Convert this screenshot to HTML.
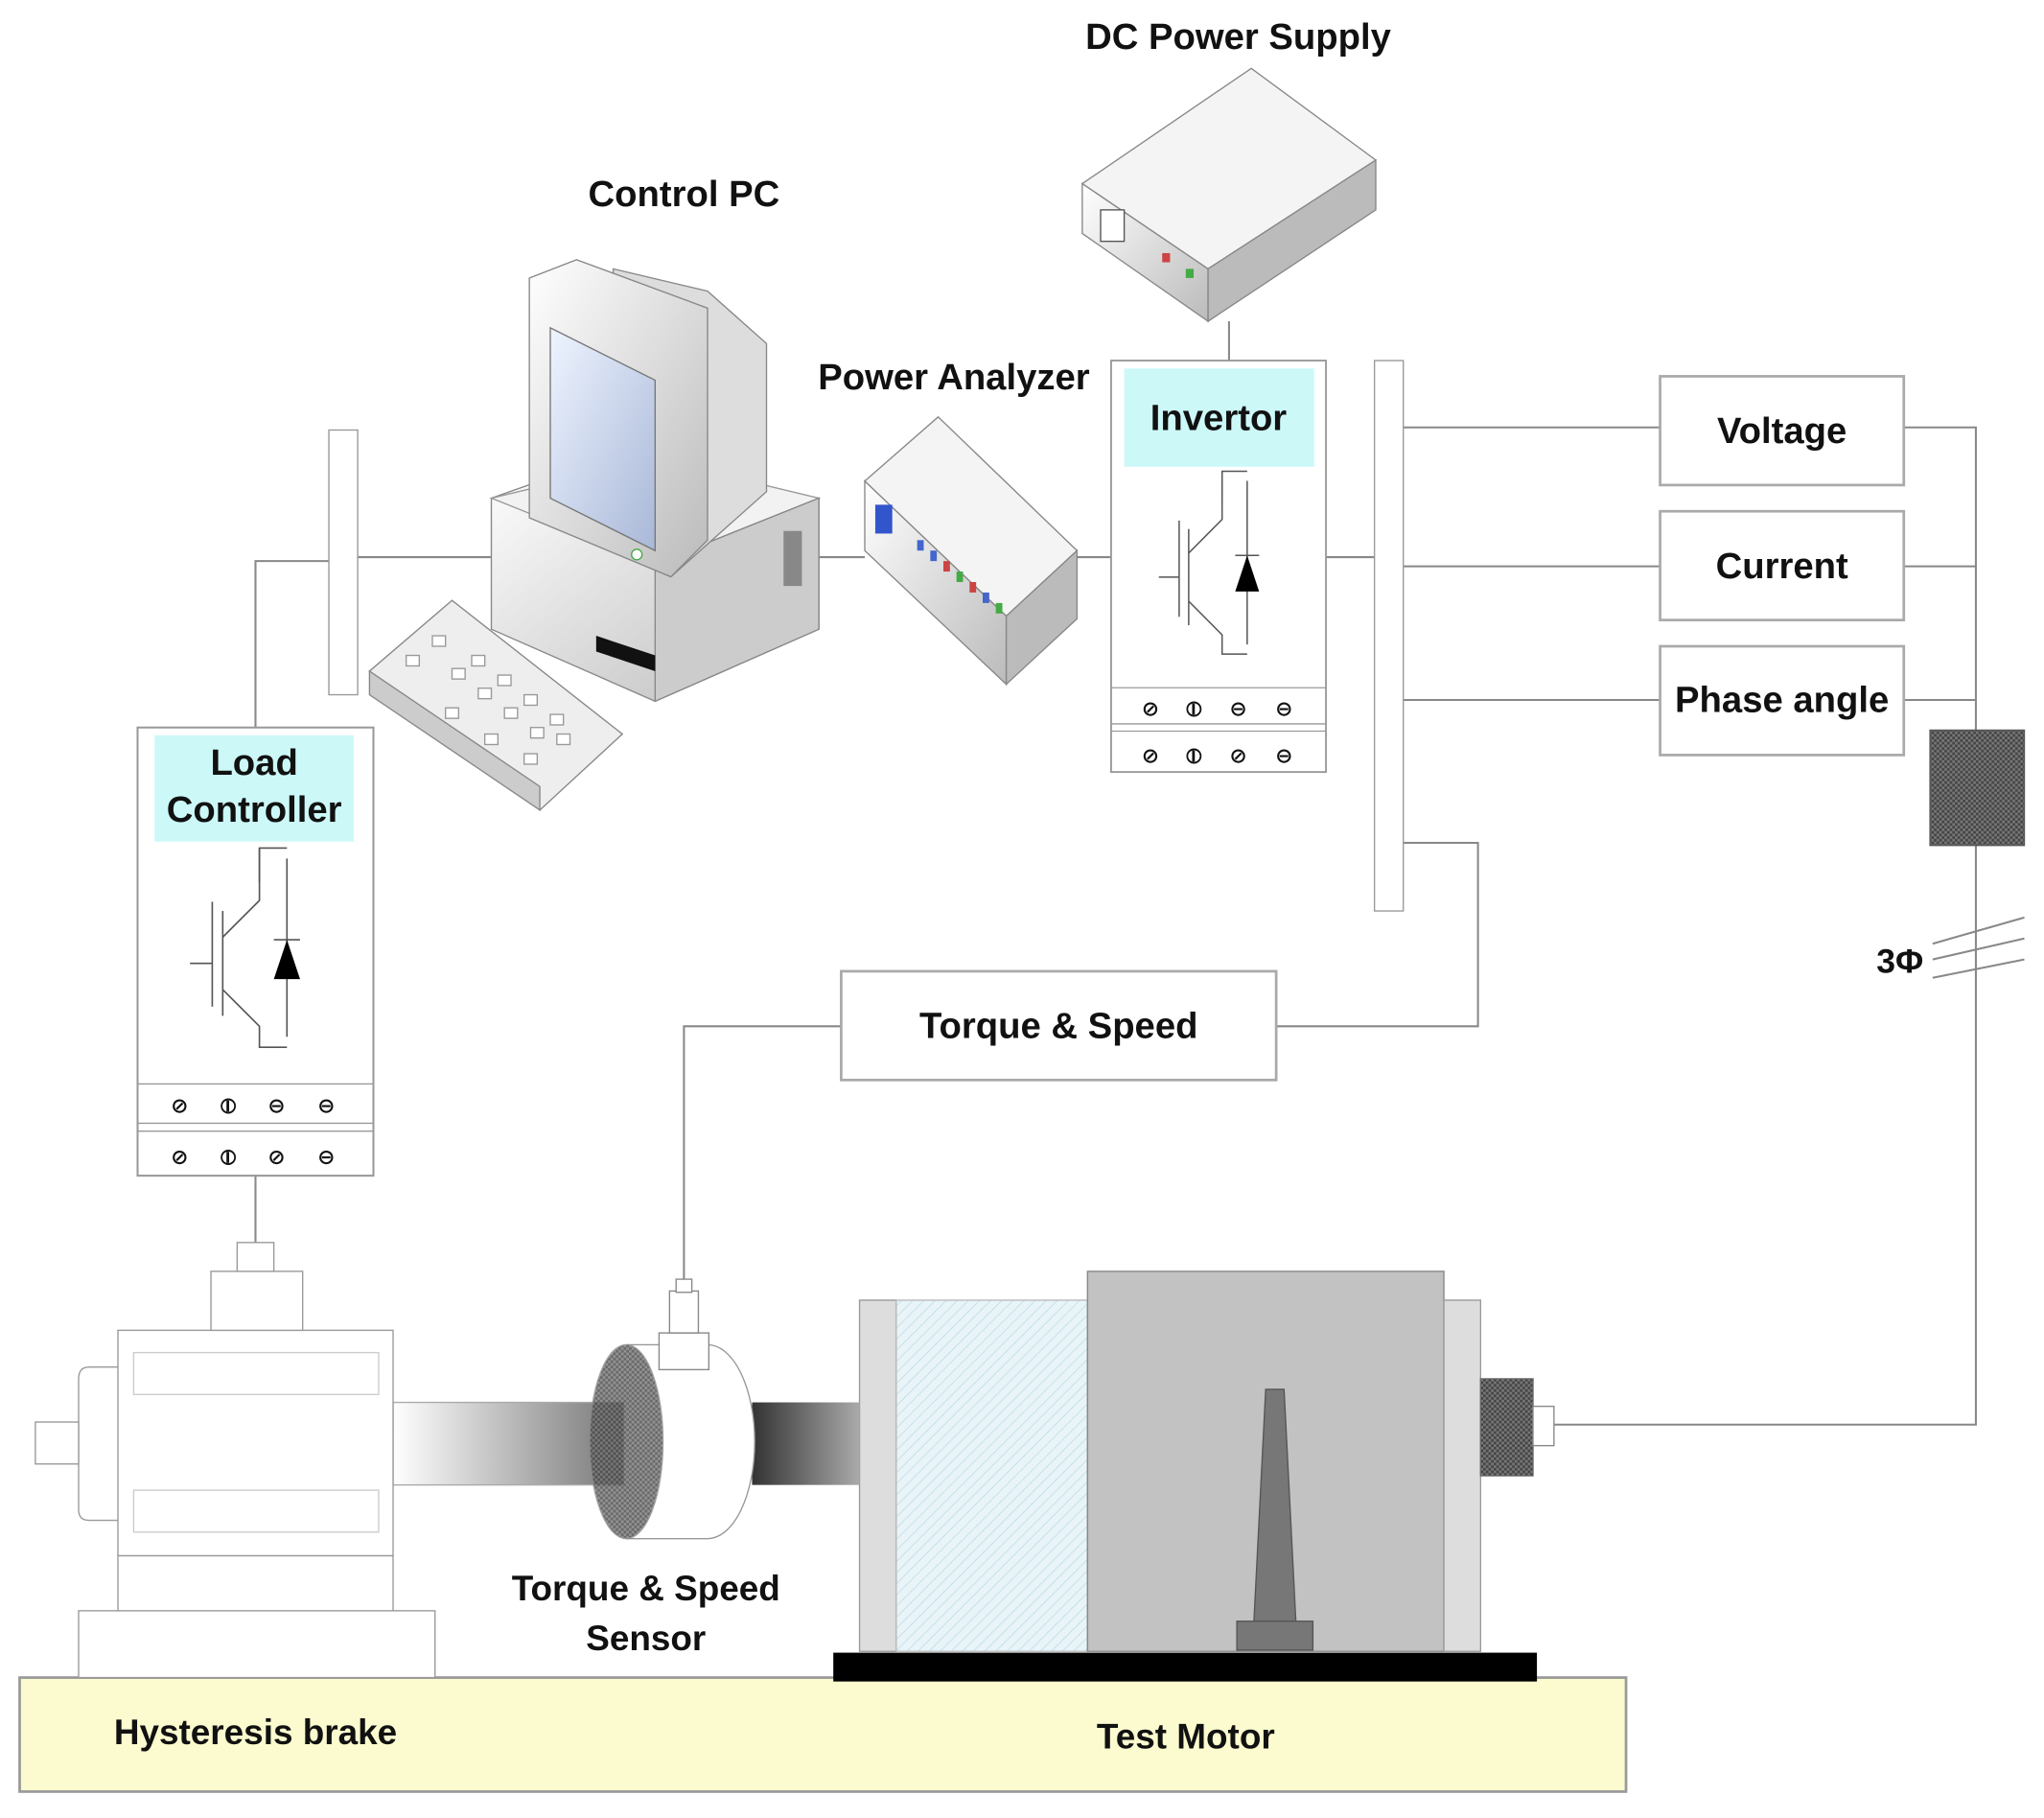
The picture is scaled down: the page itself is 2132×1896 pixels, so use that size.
<!DOCTYPE html>
<html><head><meta charset="utf-8"><style>
html,body{margin:0;padding:0;background:#fff}
svg{display:block}
text{font-family:"Liberation Sans","DejaVu Sans",sans-serif;font-weight:bold;fill:#111}
</style></head><body>
<svg width="2132" height="1896" viewBox="0 0 1560 1387" xmlns="http://www.w3.org/2000/svg">
<defs>
<linearGradient id="sh" x1="0" x2="1"><stop offset="0" stop-color="#fff"/><stop offset="1" stop-color="#777"/></linearGradient>
<linearGradient id="sh2" x1="0" x2="1"><stop offset="0" stop-color="#333"/><stop offset="1" stop-color="#aaa"/></linearGradient>
<linearGradient id="gb" x1="0" y1="0" x2="1" y2="1"><stop offset="0" stop-color="#fff"/><stop offset="1" stop-color="#bbb"/></linearGradient>
<linearGradient id="scr" x1="0" y1="0" x2="1" y2="1"><stop offset="0" stop-color="#eef4ff"/><stop offset="1" stop-color="#a9b8d8"/></linearGradient>
<pattern id="hat" width="6" height="6" patternUnits="userSpaceOnUse" patternTransform="rotate(45)"><rect width="6" height="6" fill="#e8f4f8"/><line x1="0" y1="0" x2="0" y2="6" stroke="#b8d8e0" stroke-width="1"/></pattern>
<pattern id="chk" width="4" height="4" patternUnits="userSpaceOnUse"><rect width="4" height="4" fill="#777"/><rect width="2" height="2" fill="#444"/><rect x="2" y="2" width="2" height="2" fill="#444"/></pattern>
<g id="ctl">
<rect x="0" y="0" width="180" height="342" fill="#fff" stroke="#999" stroke-width="1.5"/>
<line x1="0" y1="272" x2="180" y2="272" stroke="#999"/><line x1="0" y1="302" x2="180" y2="302" stroke="#999"/><line x1="0" y1="308" x2="180" y2="308" stroke="#999"/>
<g stroke="#555" fill="none" stroke-width="1.2">
<line x1="57" y1="133" x2="57" y2="213"/><line x1="40" y1="180" x2="57" y2="180"/><line x1="65" y1="140" x2="65" y2="220"/>
<polyline points="65,160 93,132 93,92 114,92"/><polyline points="65,200 93,228 93,244 114,244"/><line x1="93" y1="92" x2="93" y2="118"/>
<line x1="114" y1="100" x2="114" y2="236"/><line x1="104" y1="162" x2="124" y2="162"/>
</g>
<polygon points="114,162 104,192 124,192" fill="#000"/>
</g>
</defs>
<g stroke="#888" stroke-width="1.5" fill="none">
<line x1="273" y1="425" x2="380" y2="425"/><line x1="620" y1="425" x2="660" y2="425"/><line x1="822" y1="425" x2="848" y2="425"/><line x1="1012" y1="425" x2="1049" y2="425"/>
<polyline points="251,428 195,428 195,555"/>
<line x1="195" y1="897" x2="195" y2="948"/>
<line x1="938" y1="245" x2="938" y2="275"/>
<line x1="1071" y1="326" x2="1267" y2="326"/><line x1="1071" y1="432" x2="1267" y2="432"/><line x1="1071" y1="534" x2="1267" y2="534"/>
<polyline points="1453,326 1508,326 1508,557"/><line x1="1453" y1="432" x2="1508" y2="432"/><line x1="1453" y1="534" x2="1508" y2="534"/>
<polyline points="1508,645 1508,1087 1186,1087"/>
<polyline points="1071,643 1128,643 1128,783 974,783"/>
<polyline points="642,783 522,783 522,978"/>
<line x1="1475" y1="720" x2="1545" y2="700"/><line x1="1475" y1="732" x2="1545" y2="716"/><line x1="1475" y1="746" x2="1545" y2="732"/>
</g>
<rect x="15" y="1280" width="1226" height="87" fill="#fbfbcf" stroke="#999" stroke-width="2"/>
<text x="195" y="1331" font-size="27" text-anchor="middle">Hysteresis brake</text>
<text x="905" y="1334" font-size="27" text-anchor="middle">Test Motor</text>
<rect x="636" y="1261" width="537" height="22" fill="#000"/>
<rect x="656" y="992" width="28" height="268" fill="#ddd" stroke="#999"/>
<rect x="684" y="992" width="146" height="268" fill="url(#hat)" stroke="#bbb"/>
<rect x="830" y="970" width="272" height="290" fill="#c2c2c2" stroke="#888"/>
<rect x="1102" y="992" width="28" height="268" fill="#ddd" stroke="#999"/>
<rect x="1130" y="1052" width="40" height="74" fill="url(#chk)" stroke="#666"/>
<rect x="1170" y="1073" width="16" height="30" fill="#fff" stroke="#888"/>
<polygon points="957,1237 966,1060 980,1060 989,1237" fill="#777" stroke="#555"/>
<rect x="944" y="1237" width="58" height="22" fill="#777" stroke="#555"/>
<rect x="300" y="1070" width="176" height="63" fill="url(#sh)" stroke="#aaa"/>
<rect x="574" y="1070" width="82" height="63" fill="url(#sh2)"/>
<path d="M478,1026 L540,1026 A36,74 0 0 1 540,1174 L478,1174" fill="#fff" stroke="#999"/>
<ellipse cx="478" cy="1100" rx="28" ry="74" fill="url(#chk)" stroke="#888" opacity="0.8"/>
<rect x="503" y="1017" width="38" height="28" fill="#fff" stroke="#888"/>
<rect x="511" y="985" width="22" height="32" fill="#fff" stroke="#888"/>
<rect x="516" y="976" width="12" height="10" fill="#fff" stroke="#888"/>
<text x="493" y="1221" font-size="27" text-anchor="middle">Torque &amp; Speed</text>
<text x="493" y="1259" font-size="27" text-anchor="middle">Sensor</text>
<rect x="60" y="1229" width="272" height="51" fill="#fff" stroke="#999"/>
<rect x="90" y="1187" width="210" height="42" fill="#fff" stroke="#999"/>
<path d="M90,1043 L68,1043 Q60,1043 60,1052 L60,1152 Q60,1160 68,1160 L90,1160" fill="#fff" stroke="#999"/>
<rect x="27" y="1085" width="33" height="32" fill="#fff" stroke="#999"/>
<rect x="90" y="1015" width="210" height="172" fill="#fff" stroke="#999"/>
<rect x="102" y="1032" width="187" height="32" fill="#fff" stroke="#ccc"/>
<rect x="102" y="1137" width="187" height="32" fill="#fff" stroke="#ccc"/>
<rect x="161" y="970" width="70" height="45" fill="#fff" stroke="#999"/>
<rect x="181" y="948" width="28" height="22" fill="#fff" stroke="#999"/>
<rect x="251" y="328" width="22" height="202" fill="#fff" stroke="#999"/>
<rect x="1049" y="275" width="22" height="420" fill="#fff" stroke="#999"/>
<g fill="#fff" stroke="#aaa" stroke-width="2">
<rect x="1267" y="287" width="186" height="83"/><rect x="1267" y="390" width="186" height="83"/><rect x="1267" y="493" width="186" height="83"/>
<rect x="642" y="741" width="332" height="83"/>
</g>
<text x="1360" y="338" font-size="28" text-anchor="middle">Voltage</text>
<text x="1360" y="441" font-size="28" text-anchor="middle">Current</text>
<text x="1360" y="543" font-size="28" text-anchor="middle">Phase angle</text>
<text x="808" y="792" font-size="28" text-anchor="middle">Torque &amp; Speed</text>
<rect x="1473" y="557" width="72" height="88" fill="url(#chk)" stroke="#555"/>
<text x="1450" y="742" font-size="26" text-anchor="middle">3Φ</text>
<use href="#ctl" transform="translate(105,555)"/>
<g transform="translate(848,275) scale(0.911,0.918)"><use href="#ctl"/></g>
<rect x="118" y="561" width="152" height="81" fill="#ccf8f8"/>
<text x="194" y="591" font-size="28" text-anchor="middle">Load</text>
<text x="194" y="627" font-size="28" text-anchor="middle">Controller</text>
<rect x="858" y="281" width="145" height="75" fill="#ccf8f8"/>
<text x="930" y="328" font-size="28" text-anchor="middle">Invertor</text>
<g font-size="16" fill="#555" text-anchor="middle" font-weight="normal">
<text x="137" y="849">⊘</text><text x="174" y="849">⦶</text><text x="211" y="849">⊖</text><text x="249" y="849">⊖</text>
<text x="137" y="888">⊘</text><text x="174" y="888">⦶</text><text x="211" y="888">⊘</text><text x="249" y="888">⊖</text>
<text x="878" y="546">⊘</text><text x="911" y="546">⦶</text><text x="945" y="546">⊖</text><text x="980" y="546">⊖</text>
<text x="878" y="582">⊘</text><text x="911" y="582">⦶</text><text x="945" y="582">⊘</text><text x="980" y="582">⊖</text>
</g>
<text x="522" y="157" font-size="28" text-anchor="middle">Control PC</text>
<polygon points="375,380 460,350 625,380 625,480 500,535 375,480" fill="url(#gb)" stroke="#888"/>
<polygon points="375,380 500,430 625,380 500,350" fill="#f2f2f2" stroke="#999"/>
<polygon points="500,430 625,380 625,480 500,535" fill="#ccc" stroke="#888"/>
<rect x="598" y="405" width="14" height="42" fill="#888"/>
<polygon points="455,485 500,500 500,512 455,497" fill="#111"/>
<polygon points="468,205 540,222 585,262 585,375 512,440 468,420" fill="#ddd" stroke="#888"/>
<polygon points="404,212 440,198 540,235 540,412 512,440 404,395" fill="url(#gb)" stroke="#888"/>
<polygon points="420,250 500,290 500,420 420,380" fill="url(#scr)" stroke="#777"/>
<circle cx="486" cy="423" r="4" fill="#fff" stroke="#4a4"/>
<polygon points="282,512 345,458 475,560 412,618" fill="#eee" stroke="#888"/>
<polygon points="282,512 412,600 412,618 282,530" fill="#ccc" stroke="#888"/>
<g fill="#fff" stroke="#999"><rect x="310" y="500" width="10" height="8"/><rect x="330" y="485" width="10" height="8"/><rect x="345" y="510" width="10" height="8"/><rect x="365" y="525" width="10" height="8"/><rect x="385" y="540" width="10" height="8"/><rect x="405" y="555" width="10" height="8"/><rect x="425" y="560" width="10" height="8"/><rect x="360" y="500" width="10" height="8"/><rect x="380" y="515" width="10" height="8"/><rect x="400" y="530" width="10" height="8"/><rect x="420" y="545" width="10" height="8"/><rect x="340" y="540" width="10" height="8"/><rect x="370" y="560" width="10" height="8"/><rect x="400" y="575" width="10" height="8"/></g>
<text x="728" y="297" font-size="28" text-anchor="middle">Power Analyzer</text>
<polygon points="660,367 716,318 822,420 768,470" fill="#f4f4f4" stroke="#888"/>
<polygon points="660,367 768,470 768,522 660,420" fill="url(#gb)" stroke="#888"/>
<polygon points="768,470 822,420 822,472 768,522" fill="#bbb" stroke="#888"/>
<rect x="668" y="385" width="13" height="22" fill="#35c"/>
<g><rect x="700" y="412" width="5" height="8" fill="#46c"/><rect x="710" y="420" width="5" height="8" fill="#46c"/><rect x="720" y="428" width="5" height="8" fill="#c44"/><rect x="730" y="436" width="5" height="8" fill="#4a4"/><rect x="740" y="444" width="5" height="8" fill="#c44"/><rect x="750" y="452" width="5" height="8" fill="#46c"/><rect x="760" y="460" width="5" height="8" fill="#4a4"/></g>
<text x="945" y="37" font-size="28" text-anchor="middle">DC Power Supply</text>
<polygon points="826,140 955,52 1050,122 922,205" fill="#f4f4f4" stroke="#888"/>
<polygon points="826,140 922,205 922,245 826,178" fill="url(#gb)" stroke="#888"/>
<polygon points="922,205 1050,122 1050,160 922,245" fill="#bbb" stroke="#888"/>
<rect x="840" y="160" width="18" height="24" fill="#fff" stroke="#555"/>
<rect x="887" y="193" width="6" height="7" fill="#c44"/><rect x="905" y="205" width="6" height="7" fill="#4a4"/>
</svg>
</body></html>
